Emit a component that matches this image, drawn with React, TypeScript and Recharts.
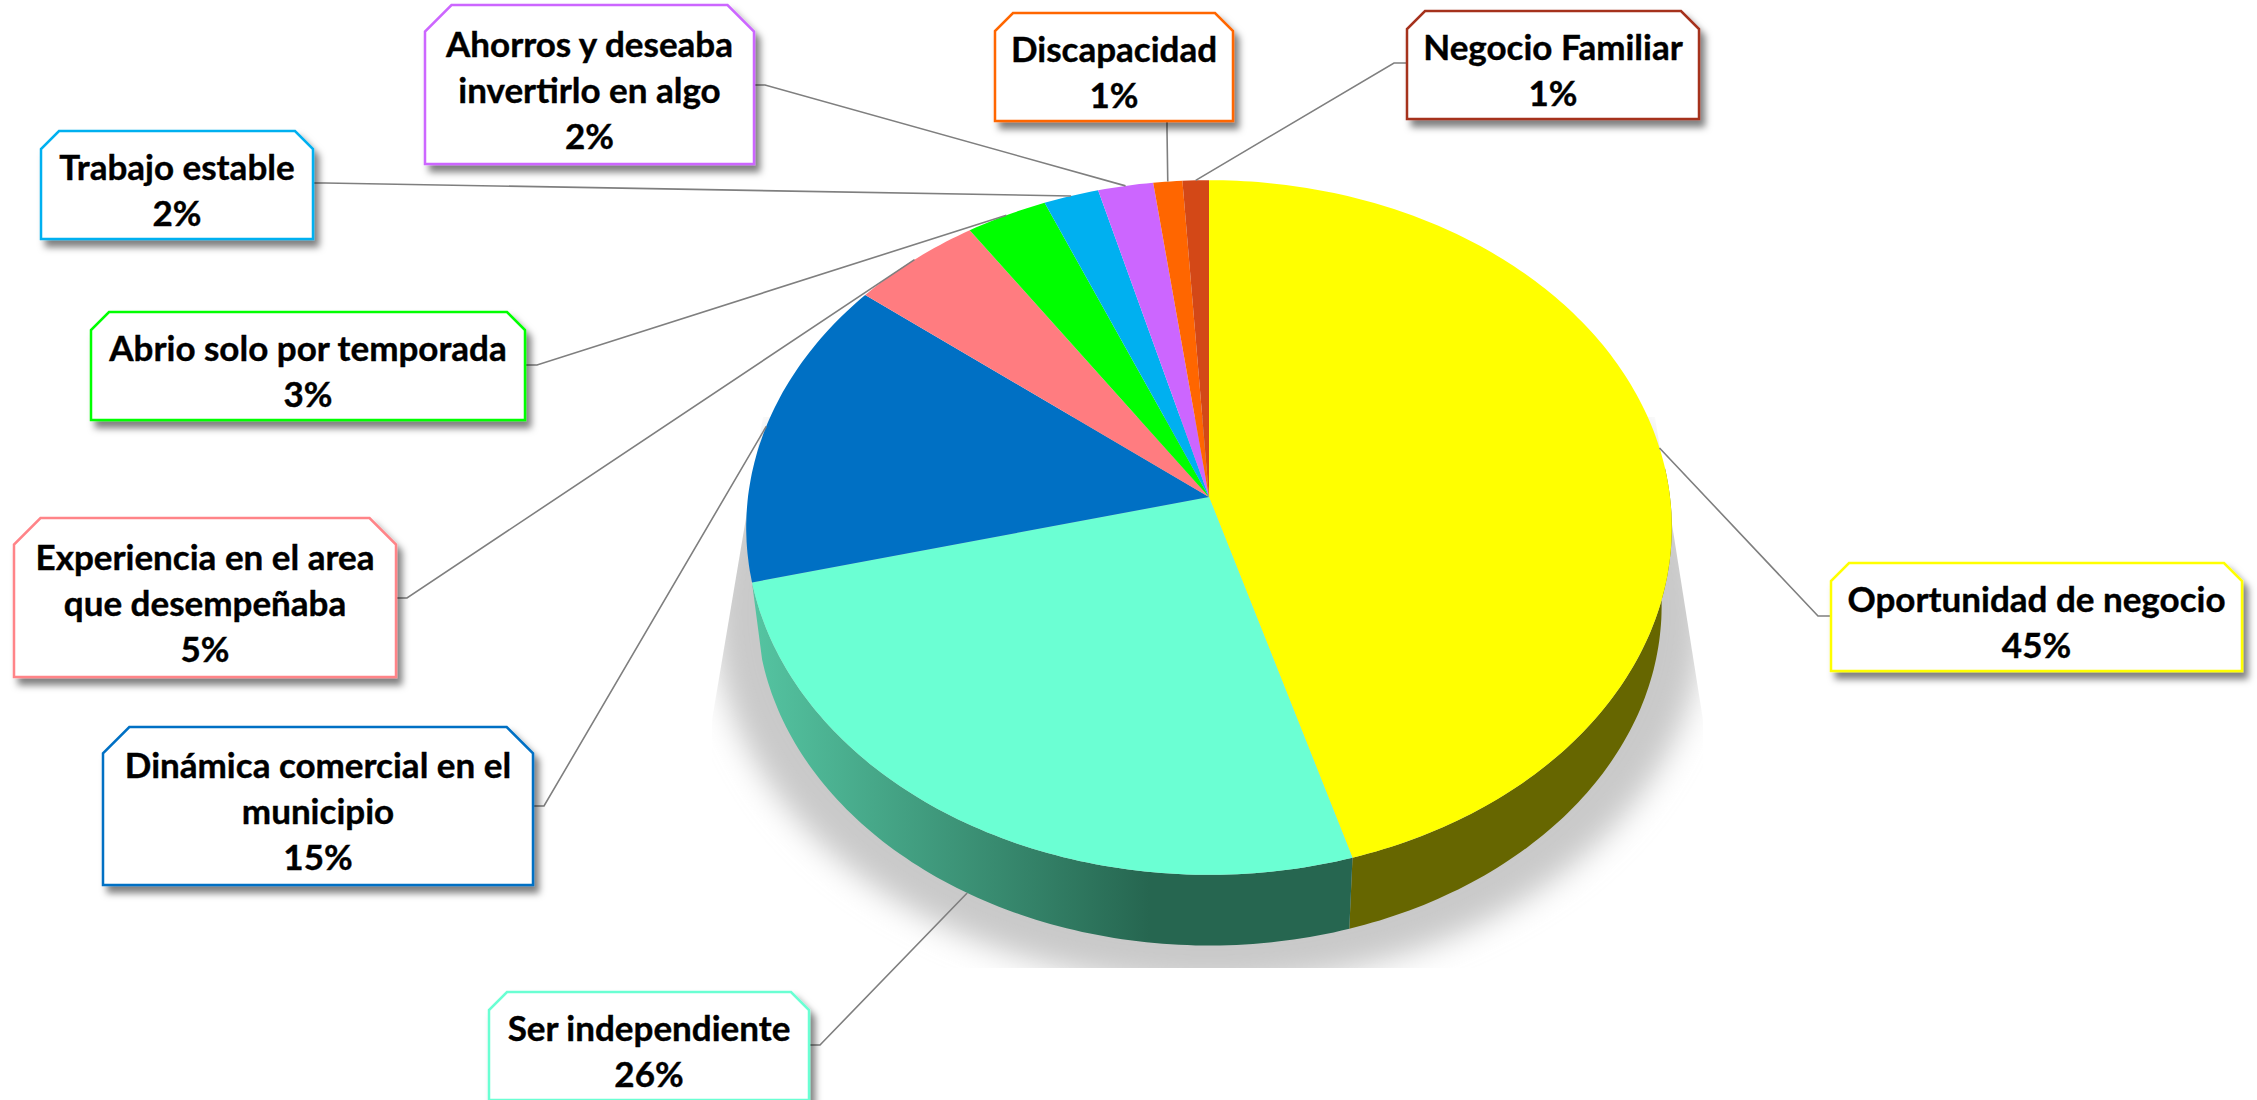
import { Pie, PieChart } from "recharts";

const categories = [
  "Oportunidad de negocio",
  "Ser independiente",
  "Dinámica comercial en el municipio",
  "Experiencia en el area que desempeñaba",
  "Abrio solo por temporada",
  "Trabajo estable",
  "Ahorros y deseaba invertirlo en algo",
  "Discapacidad",
  "Negocio Familiar",
];
// labels show these rounded
const values = [45.4, 25.7, 14.5, 5, 3.1, 2.1, 2.1, 1.1, 1];
const sliceColors = ["#ffff00", "#6bffd3", "#0070c4", "#ff7c80", "#00ff00", "#00b0f0", "#cc66ff", "#ff6600", "#d34817"];
const boxColors = ["#ffff00", "#6bffd3", "#0070c4", "#ff8488", "#00ff00", "#00b0f0", "#cc66ff", "#ff6600", "#a5301f"];

// where each callout sits; wrap = words on the first line
const boxes = [
  { x: 1831, y: 563, w: 411, h: 108, attach: [1831, 616], elbow: [1818, 616], wrap: 3 },
  { x: 489, y: 992, w: 320, h: 108, attach: [809, 1045], elbow: [820, 1045], wrap: 2 },
  { x: 103, y: 727, w: 430, h: 158, attach: [533, 806], elbow: [544, 806], wrap: 4 },
  { x: 14, y: 518, w: 382, h: 159, attach: [396, 598], elbow: [407, 598], wrap: 4 },
  { x: 91, y: 312, w: 434, h: 108, attach: [525, 365], elbow: [537, 365], wrap: 4 },
  { x: 41, y: 131, w: 272, h: 108, attach: [313, 183], elbow: [325, 183], wrap: 2 },
  { x: 425, y: 5, w: 329, h: 159, attach: [754, 85], elbow: [765, 85], wrap: 3 },
  { x: 995, y: 13, w: 238, h: 108, attach: [1167, 121], elbow: [1167, 130], wrap: 1 },
  { x: 1407, y: 11, w: 292, h: 108, attach: [1407, 63], elbow: [1394, 63], wrap: 2 },
];

const data = categories.map((name, i) => ({ name, value: values[i] }));

// the pie is tilted: a flat circle seen in perspective, with a wall below the rim
const TILT = 0.0878;
const FLAT = 0.7476;
const WALL_DROP = 79;
const WALL_SCALE = 0.978;
const FONT = "Lato, 'Open Sans', sans-serif";

const wallFills = ["#666600", "url(#tealWall)"];

const rad = (angle: number) => ((90 - angle) * Math.PI) / 180;

function project(cx: number, cy: number, r: number, t: number, scale = 1, drop = 0) {
  const d = 1 + TILT * Math.cos(t);
  return [cx + (scale * r * Math.sin(t)) / d, cy + drop - (scale * r * FLAT * Math.cos(t)) / d];
}

function arc(cx: number, cy: number, r: number, from: number, to: number, scale = 1, drop = 0) {
  const steps = Math.max(2, Math.ceil(Math.abs(to - from) * 60));
  const pts: number[][] = [];
  for (let i = 0; i <= steps; i++) pts.push(project(cx, cy, r, from + ((to - from) * i) / steps, scale, drop));
  return pts;
}

const toPath = (pts: number[][]) => "M" + pts.map((p) => `${p[0].toFixed(1)},${p[1].toFixed(1)}`).join("L") + "Z";

function Slice(props: any) {
  const { cx, cy, outerRadius, startAngle, endAngle, index, fill } = props;
  const from = rad(startAngle);
  const to = rad(endAngle);
  const top = [[cx, cy], ...arc(cx, cy, outerRadius, from, to)];
  const wall = wallFills[index];
  const wallFrom = Math.max(from, (85 * Math.PI) / 180);
  return (
    <g>
      {index === 0 && (
        <g>
          <defs>
            <filter id="pieShadow" x="-20%" y="-20%" width="140%" height="140%">
              <feGaussianBlur stdDeviation="15" />
            </filter>
            <filter id="boxShadow" x="-10%" y="-10%" width="125%" height="130%">
              <feDropShadow dx="5" dy="7" stdDeviation="3.5" floodColor="#000" floodOpacity="0.5" />
            </filter>
            <clipPath id="shadowClip">
              <polygon points="763,417 1655,417 1703,720 1703,968 712,968 712,720" />
            </clipPath>
            <linearGradient id="tealWall" gradientUnits="userSpaceOnUse" x1="750" y1="0" x2="1150" y2="0">
              <stop offset="0%" stopColor="#55c5a2" />
              <stop offset="100%" stopColor="#266650" />
            </linearGradient>
          </defs>
          <g clipPath="url(#shadowClip)">
            <path
              d={toPath(arc(cx, cy, outerRadius, 0, 2 * Math.PI, 1.07, 83))}
              fill="#c9c9c9"
              filter="url(#pieShadow)"
            />
          </g>
        </g>
      )}
      {wall && (
        <path
          d={toPath([
            ...arc(cx, cy, outerRadius, wallFrom, to),
            ...arc(cx, cy, outerRadius, to, wallFrom, WALL_SCALE, WALL_DROP),
          ])}
          fill={wall}
        />
      )}
      <path d={toPath(top)} fill={fill} />
    </g>
  );
}

function Callout(props: any) {
  const { cx, cy, outerRadius, midAngle, index, name, value } = props;
  const box = boxes[index];
  const t = rad(midAngle);
  // front slices are met at the foot of the wall, the others on the rim
  const end = index === 1 ? project(cx, cy, outerRadius, t, WALL_SCALE, WALL_DROP) : project(cx, cy, outerRadius, t);
  const cut = Math.min(box.w, box.h) / 6;
  const { x, y, w, h } = box;
  const words = name.split(" ");
  const first = words.slice(0, box.wrap).join(" ");
  const rest = words.slice(box.wrap).join(" ");
  const lines = [first, rest, `${Math.round(value)}%`].filter(Boolean);
  const baseline = y + h / 2 - ((lines.length - 1) * 46) / 2 + 18;
  return (
    <g>
      <polyline
        points={`${end[0]},${end[1]} ${box.elbow[0]},${box.elbow[1]} ${box.attach[0]},${box.attach[1]}`}
        fill="none"
        stroke="#7f7f7f"
        strokeWidth={1.6}
      />
      <polygon
        points={`${x + cut},${y} ${x + w - cut},${y} ${x + w},${y + cut} ${x + w},${y + h} ${x},${y + h} ${x},${y + cut}`}
        fill="#fff"
        stroke={boxColors[index]}
        strokeWidth={2.5}
        filter="url(#boxShadow)"
      />
      <text
        x={x + w / 2}
        textAnchor="middle"
        fontFamily={FONT}
        fontWeight={700}
        fontSize={35}
        fill="#000"
        stroke="#000"
        strokeWidth={0.4}
      >
        {lines.map((line, i) => (
          <tspan key={i} x={x + w / 2} y={baseline + i * 46}>
            {line}
          </tspan>
        ))}
      </text>
    </g>
  );
}

export default function App() {
  const sliced = data.map((d, i) => ({ ...d, fill: sliceColors[i] }));
  return (
    <div style={{ position: "absolute", left: 0, top: 0, width: 2257, height: 1100, background: "#fff" }}>
      <PieChart width={2257} height={1100} margin={{ top: 0, right: 0, bottom: 0, left: 0 }}>
        <Pie
          data={sliced}
          dataKey="value"
          nameKey="name"
          cx={1209}
          cy={497}
          innerRadius={0}
          outerRadius={461}
          startAngle={90}
          endAngle={-270}
          stroke="none"
          isAnimationActive={false}
          shape={Slice}
          label={Callout}
          labelLine={false}
        />
      </PieChart>
    </div>
  );
}
